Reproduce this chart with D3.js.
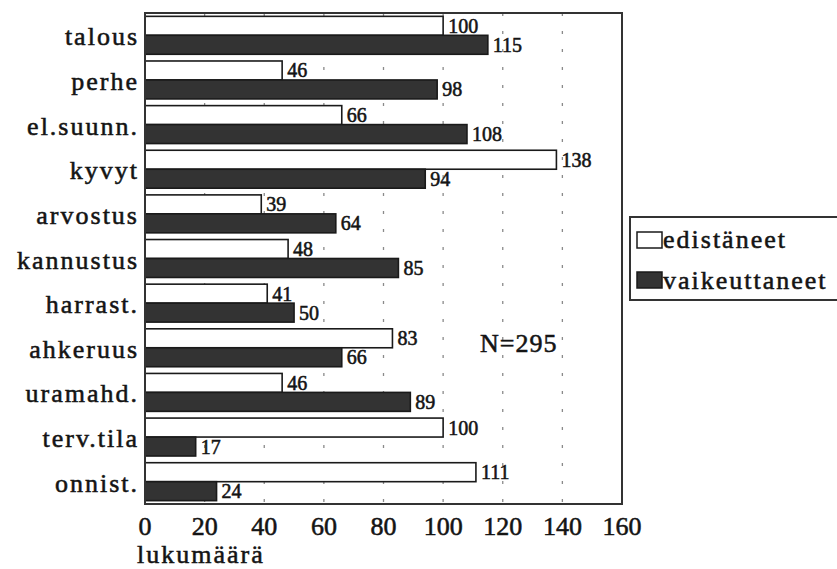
<!DOCTYPE html>
<html><head><meta charset="utf-8">
<script src="https://cdn.jsdelivr.net/npm/d3@7"></script>
<style>html,body{margin:0;padding:0;background:#fff;}
svg text{font-family:"Liberation Serif","Tinos",serif;fill:#141414;stroke:#141414;stroke-width:0.55px;}</style>
</head><body>
<svg id="chart" width="837" height="569"></svg>
<script>
const categories = ["talous","perhe","el.suunn.","kyvyt","arvostus","kannustus","harrast.","ahkeruus","uramahd.","terv.tila","onnist."];
const edistaneet = [100,46,66,138,39,48,41,83,46,100,111];
const vaikeuttaneet = [115,98,108,94,64,85,50,66,89,17,24];
const seriesNames = ["edistäneet","vaikeuttaneet"];
const xTicks = [0,20,40,60,80,100,120,140,160];
const axisTitle = "lukumäärä";
const note = "N=295";

(function(){
const svg = d3.select("#chart");
const pl = 145, pr = 622, pt = 13, pb = 504;

const x = d3.scaleLinear().domain([0,160]).range([pl,pr]);
const y = d3.scaleBand().domain(categories).range([pt,pb]).paddingInner(0.15).paddingOuter(0.075);
const ySub = d3.scaleBand().domain(seriesNames).range([0,y.bandwidth()]);

const data = categories.map((c,i)=>({cat:c, vals:[{s:seriesNames[0],v:edistaneet[i]},{s:seriesNames[1],v:vaikeuttaneet[i]}]}));
const fills = {"edistäneet":"#ffffff","vaikeuttaneet":"#333333"};

// gridlines
svg.append("g").selectAll("line").data(xTicks.filter(t=>t>0 && t<160)).join("line")
  .attr("x1",d=>x(d)).attr("x2",d=>x(d)).attr("y1",pt).attr("y2",pb)
  .attr("stroke","#8a8a8a").attr("stroke-width",1.3).attr("stroke-dasharray","3,15");

// bars
const g = svg.append("g");
const groups = g.selectAll("g").data(data).join("g").attr("transform",d=>`translate(0,${y(d.cat)})`);
groups.selectAll("rect").data(d=>d.vals).join("rect")
  .attr("x",x(0)).attr("y",d=>ySub(d.s)).attr("width",d=>x(d.v)-x(0)).attr("height",ySub.bandwidth())
  .attr("fill",d=>fills[d.s]).attr("stroke","#1a1a1a").attr("stroke-width",1.6);
groups.selectAll("text").data(d=>d.vals).join("text")
  .attr("x",d=>x(d.v)+5).attr("y",d=>ySub(d.s)+ySub.bandwidth()/2+7)
  .attr("font-size",20).text(d=>d.v);

// frame
svg.append("rect").attr("x",pl).attr("y",pt).attr("width",pr-pl).attr("height",pb-pt)
  .attr("fill","none").attr("stroke","#333").attr("stroke-width",2);

// category labels
svg.append("g").selectAll("text").data(categories).join("text")
  .attr("x",139).attr("y",d=>y(d)+y.bandwidth()/2+10).attr("text-anchor","end")
  .attr("font-size",26).attr("letter-spacing","2px").text(d=>d);

// x axis tick labels
svg.append("g").selectAll("text").data(xTicks).join("text")
  .attr("x",d=>x(d)).attr("y",535).attr("text-anchor","middle")
  .attr("font-size",26).text(d=>d);

svg.append("text").attr("x",137).attr("y",563).attr("font-size",26)
  .attr("letter-spacing","2px").text(axisTitle);

svg.append("text").attr("x",480).attr("y",352).attr("font-size",26)
  .attr("letter-spacing","1px").text(note);

// legend
const lg = svg.append("g");
lg.append("rect").attr("x",630).attr("y",217).attr("width",230).attr("height",83)
  .attr("fill","#fff").attr("stroke","#333").attr("stroke-width",2);
seriesNames.forEach((s,i)=>{
  lg.append("rect").attr("x",637).attr("y",232+i*40).attr("width",25).attr("height",16)
    .attr("fill",fills[s]).attr("stroke","#1a1a1a").attr("stroke-width",1.5);
  lg.append("text").attr("x",663).attr("y",248+i*41).attr("font-size",26)
    .attr("letter-spacing","2px").text(s);
});
})();
</script>
</body></html>
